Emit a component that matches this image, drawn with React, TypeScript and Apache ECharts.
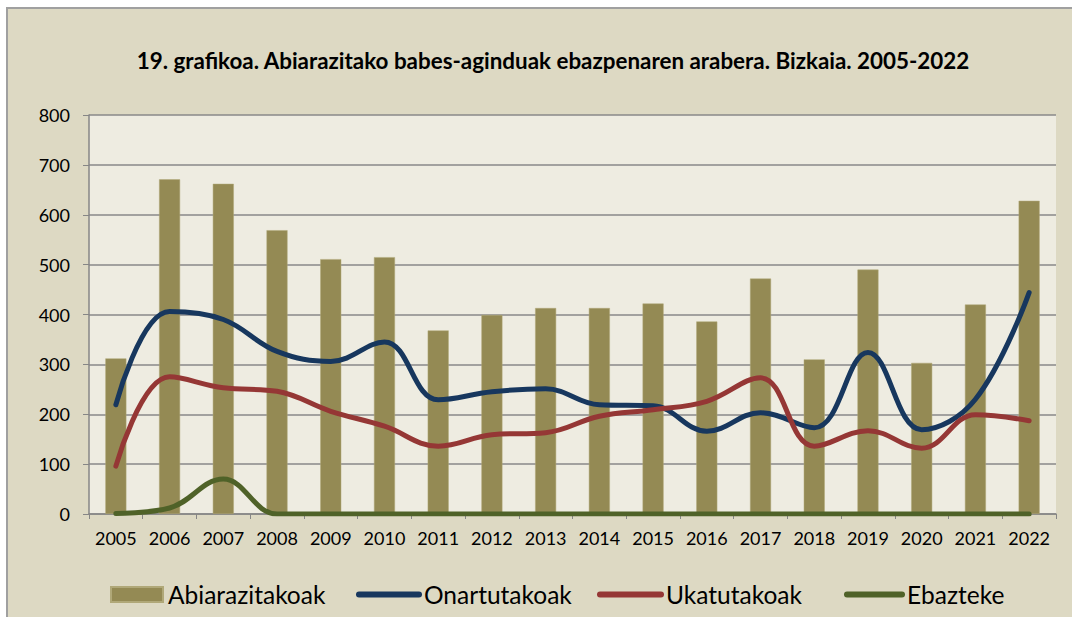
import React, { useEffect, useRef } from "react";
import * as echarts from "echarts";

const years = ["2005","2006","2007","2008","2009","2010","2011","2012","2013","2014","2015","2016","2017","2018","2019","2020","2021","2022"];
const abiarazitakoak = [312, 671, 662, 569, 511, 515, 368, 399, 413, 413, 422, 386, 472, 310, 490, 303, 420, 628];
const onartutakoak = [219, 406, 390, 326, 306, 345, 229, 245, 251, 219, 217, 166, 203, 173, 324, 169, 230, 444];
const ukatutakoak = [96, 275, 253, 246, 206, 176, 136, 159, 163, 196, 209, 226, 273, 136, 167, 132, 199, 187];
const ebazteke = [1, 12, 70, 0, 0, 0, 0, 0, 0, 0, 0, 0, 0, 0, 0, 0, 0, 0];
const yTicks = [0, 100, 200, 300, 400, 500, 600, 700, 800];

const FONT = "Lato";

function legendFor(name: string, left: number, width: number, isLine: boolean) {
  return {
    left,
    top: 577,
    itemWidth: width,
    itemHeight: 15,
    textStyle: { fontFamily: FONT, fontSize: 24.5, color: "#000" },
    data: [
      isLine
        ? { name, itemStyle: { opacity: 0 } }
        : { name, icon: "rect" },
    ],
    lineStyle: { width: 6, cap: "round" },
  };
}

export default function App() {
  const ref = useRef<HTMLDivElement>(null);
  useEffect(() => {
    if (!ref.current) return;
    const chart = echarts.init(ref.current, null, { renderer: "svg" });
    chart.setOption({
      animation: false,
      backgroundColor: "#ffffff",
      textStyle: { fontFamily: FONT },
      graphic: [
        {
          type: "rect",
          shape: { x: 7, y: 8, width: 1080, height: 620 },
          style: { fill: "#DDD9C3", stroke: "#A0A0A0", lineWidth: 2 },
          z: -10,
          silent: true,
        },
      ],
      title: {
        text: "19. grafikoa. Abiarazitako babes-aginduak ebazpenaren arabera. Bizkaia. 2005-2022",
        left: 548,
        textAlign: "center",
        top: 44,
        textStyle: { fontFamily: FONT, fontWeight: "bold", fontSize: 22.4, color: "#000" },
      },
      grid: {
        left: 89,
        right: 1072 - 1056,
        top: 115,
        bottom: 617 - 514,
        show: true,
        backgroundColor: "#EEECE1",
        borderWidth: 0,
      },
      legend: [
        legendFor("Abiarazitakoak", 105, 52, false),
        legendFor("Onartutakoak", 351, 60, true),
        legendFor("Ukatutakoak", 592, 61, true),
        legendFor("Ebazteke", 839, 55, true),
      ],
      xAxis: {
        type: "category",
        data: years,
        boundaryGap: true,
        axisLine: { lineStyle: { color: "#868686", width: 1.5 } },
        axisTick: { show: true, length: 5, lineStyle: { color: "#868686" } },
        axisLabel: { fontFamily: FONT, fontSize: 18, color: "#000", margin: 15, interval: 0 },
      },
      yAxis: {
        type: "value",
        min: 0,
        max: 800,
        interval: 100,
        axisLine: { show: true, lineStyle: { color: "#868686", width: 1.5 } },
        axisTick: { show: true, length: 6, lineStyle: { color: "#868686" } },
        splitLine: { lineStyle: { color: "#888888", width: 1.5 } },
        axisLabel: {
          fontFamily: FONT,
          fontSize: 18,
          color: "#000",
          margin: 19,
          formatter: (v: number) => (yTicks.includes(v) ? String(v) : ""),
        },
      },
      series: [
        {
          name: "Abiarazitakoak",
          type: "bar",
          data: abiarazitakoak,
          barWidth: 21,
          itemStyle: { color: "#948A54", borderColor: "#B0A878", borderWidth: 0.5 },
        },
        {
          name: "Onartutakoak",
          type: "line",
          data: onartutakoak,
          smooth: 0.4,
          showSymbol: false,
          symbol: "none",
          lineStyle: { color: "#17375E", width: 5, cap: "round" },
          itemStyle: { color: "#17375E" },
        },
        {
          name: "Ukatutakoak",
          type: "line",
          data: ukatutakoak,
          smooth: 0.4,
          showSymbol: false,
          symbol: "none",
          lineStyle: { color: "#953735", width: 5, cap: "round" },
          itemStyle: { color: "#953735" },
        },
        {
          name: "Ebazteke",
          type: "line",
          data: ebazteke,
          smooth: 0.4,
          showSymbol: false,
          symbol: "none",
          lineStyle: { color: "#4F6228", width: 5, cap: "round" },
          itemStyle: { color: "#4F6228" },
        },
      ],
    });
    return () => chart.dispose();
  }, []);
  return (
    <div
      ref={ref}
      style={{ position: "fixed", left: 0, top: 0, width: 1072, height: 617 }}
    />
  );
}
